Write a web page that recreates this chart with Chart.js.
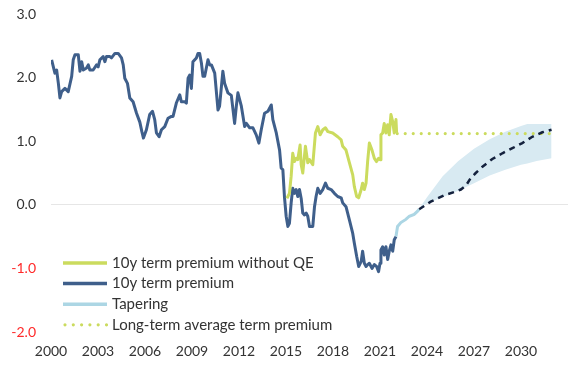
<!DOCTYPE html>
<html><head><meta charset="utf-8">
<script src="https://cdn.jsdelivr.net/npm/chart.js@4.4.0/dist/chart.umd.min.js"></script>
<style>html,body{margin:0;padding:0;background:#fff;}#wrap{width:586px;height:371px;position:relative;}</style>
</head><body><div id="wrap"><canvas id="c" width="586" height="371"></canvas></div>
<script>
// ---- tick labels ----
const xTickYears = [2000, 2003, 2006, 2009, 2012, 2015, 2018, 2021, 2024, 2027, 2030];
const yTickValues = [-2, -1, 0, 1, 2, 3];

// ---- series labels ----
const seriesLabels = ["10y term premium without QE", "10y term premium", "Tapering", "Long-term average term premium"];

// ---- 10y term premium (history) ----
const premiumDates = [2000.04,2000.15,2000.25,2000.36,2000.47,2000.57,2000.68,2000.89,2001.1,2001.32,2001.42,2001.53,2001.74,2001.85,2001.96,2002.06,2002.27,2002.38,2002.48,2002.69,2002.91,2003.01,2003.12,2003.33,2003.44,2003.54,2003.76,2003.86,2004.08,2004.29,2004.5,2004.61,2004.71,2004.88,2005.03,2005.24,2005.46,2005.67,2005.8,2005.9,2006.09,2006.3,2006.48,2006.62,2006.73,2006.9,2007.05,2007.26,2007.47,2007.69,2007.79,2008.0,2008.22,2008.32,2008.54,2008.64,2008.75,2008.85,2008.96,2009.06,2009.28,2009.38,2009.49,2009.6,2009.7,2009.81,2010.02,2010.13,2010.24,2010.45,2010.66,2010.76,2010.97,2011.08,2011.29,2011.51,2011.72,2011.83,2011.93,2012.15,2012.36,2012.47,2012.68,2012.89,2013.1,2013.27,2013.42,2013.63,2013.85,2014.06,2014.16,2014.38,2014.59,2014.69,2014.8,2014.9,2015.01,2015.12,2015.22,2015.33,2015.43,2015.54,2015.65,2015.75,2015.86,2015.97,2016.07,2016.18,2016.29,2016.39,2016.5,2016.71,2016.82,2016.92,2017.03,2017.18,2017.35,2017.52,2017.67,2017.88,2018.09,2018.3,2018.52,2018.62,2018.83,2019.05,2019.26,2019.36,2019.51,2019.64,2019.8,2019.89,2020.0,2020.11,2020.21,2020.32,2020.49,2020.64,2020.78,2020.91,2021.0,2021.06,2021.17,2021.27,2021.38,2021.49,2021.59,2021.7,2021.81,2021.91,2022.02];
const premiumValues = [2.28,2.17,2.07,2.12,1.91,1.68,1.78,1.83,1.78,2.02,2.28,2.36,2.36,2.10,2.25,2.12,2.15,2.20,2.12,2.12,2.20,2.17,2.28,2.33,2.25,2.33,2.33,2.31,2.38,2.38,2.31,2.20,1.99,1.91,1.68,1.62,1.44,1.30,1.15,1.05,1.18,1.42,1.47,1.34,1.13,1.07,1.18,1.23,1.36,1.39,1.39,1.60,1.73,1.62,1.62,1.60,1.99,2.04,1.83,2.25,2.31,2.38,2.38,2.23,2.02,2.02,2.28,2.20,2.20,2.07,1.49,1.55,2.10,1.91,1.76,1.72,1.28,1.55,1.76,1.55,1.23,1.28,1.21,1.21,1.10,0.97,1.18,1.44,1.47,1.57,1.34,1.13,0.86,0.58,0.55,0.13,-0.18,-0.34,-0.29,0.03,0.26,0.18,0.24,0.13,0.24,0.10,-0.13,-0.16,-0.13,-0.18,-0.34,-0.34,-0.03,0.13,0.26,0.18,0.24,0.34,0.26,0.24,0.18,0.13,0.11,0.03,-0.03,-0.24,-0.45,-0.60,-0.81,-0.97,-0.89,-0.73,-0.92,-0.97,-0.94,-0.92,-1.00,-0.94,-0.97,-1.05,-0.92,-0.71,-0.66,-0.79,-0.66,-0.86,-0.73,-0.63,-0.73,-0.55,-0.50];

// ---- 10y term premium without QE ----
const noQeDates = [2015.06,2015.12,2015.22,2015.33,2015.43,2015.54,2015.65,2015.75,2015.9,2015.97,2016.07,2016.24,2016.39,2016.5,2016.71,2016.88,2017.03,2017.18,2017.35,2017.52,2017.67,2017.98,2018.3,2018.52,2018.62,2018.83,2019.05,2019.26,2019.36,2019.51,2019.64,2019.8,2019.89,2020.0,2020.11,2020.21,2020.32,2020.49,2020.64,2020.78,2020.91,2021.0,2021.06,2021.17,2021.27,2021.38,2021.49,2021.59,2021.7,2021.81,2021.91,2022.02,2022.06];
const noQeValues = [0.10,0.13,0.18,0.45,0.81,0.68,0.73,0.71,0.94,0.63,0.50,0.92,0.66,0.71,0.63,1.13,1.23,1.10,1.18,1.21,1.15,1.13,1.07,1.02,0.92,0.86,0.66,0.47,0.29,0.13,0.11,0.24,0.34,0.24,0.34,0.68,0.97,0.86,0.73,0.68,0.73,0.71,1.10,1.13,1.28,1.13,1.26,1.10,1.42,1.31,1.13,1.34,1.13];

// ---- Tapering ----
const taperDates = [2022.02,2022.12,2022.33,2022.65,2022.87,2023.18,2023.4,2023.5];
const taperValues = [-0.50,-0.34,-0.28,-0.23,-0.18,-0.15,-0.10,-0.07];

// ---- Long-term average term premium ----
const averageDates = [2022.1, 2031.95];
const averageValues = [1.12, 1.12];

// ---- Projection (dashed) ----
const projectionDates = [2023.5,2024.24,2025.1,2025.84,2026.16,2026.48,2026.79,2027.11,2027.54,2028.17,2028.81,2029.45,2030.08,2030.72,2031.36,2031.95];
const projectionValues = [-0.07,0.05,0.15,0.21,0.24,0.30,0.42,0.50,0.60,0.72,0.81,0.89,0.97,1.07,1.14,1.18];

// ---- Projection band ----
const bandDates = [2023.5,2024,2025,2026,2027,2028,2029,2030,2030.4,2031,2031.95];
const bandUpper = [-0.06,0.12,0.45,0.69,0.88,1.03,1.15,1.24,1.27,1.27,1.27];
const bandLower = [-0.06,0.02,0.12,0.22,0.34,0.46,0.55,0.63,0.65,0.69,0.73];

const GREEN = '#cbdb5e', BLUE = '#3f5f8b', LIGHTBLUE = '#acd6e4', NAVY = '#14213d', BAND = '#d8eaf2';
const FONT = 'Lato, "Open Sans", sans-serif';

const pts = (xs, ys) => xs.map((x, i) => ({x: x, y: ys[i]}));

const insideLegend = {
  id: 'insideLegend',
  afterDraw(chart) {
    const ctx = chart.ctx, a = chart.chartArea;
    ctx.save();
    chart.data.datasets.forEach(d => {
      if (d.legendRow === undefined) return;
      const y = a.bottom - 69 + d.legendRow * 20.6;
      const x0 = a.left + 12, x1 = a.left + 56;
      ctx.beginPath();
      ctx.strokeStyle = d.borderColor;
      ctx.lineWidth = d.dotted ? 3.2 : 3.5;
      ctx.lineCap = d.dotted ? 'round' : 'butt';
      ctx.setLineDash(d.dotted ? [0, 8.3] : []);
      ctx.moveTo(x0 + (d.dotted ? 2 : 0), y);
      ctx.lineTo(x1, y);
      ctx.stroke();
      ctx.setLineDash([]);
      ctx.fillStyle = '#333333';
      ctx.font = '15px ' + FONT;
      ctx.textBaseline = 'middle';
      ctx.textAlign = 'left';
      ctx.fillText(d.label, x1 + 5, y);
    });
    ctx.restore();
  }
};

new Chart(document.getElementById('c'), {
  type: 'line',
  data: {
    datasets: [
      {label: 'band upper', data: pts(bandDates, bandUpper), borderWidth: 0, pointRadius: 0, backgroundColor: BAND, borderColor: BAND, fill: '+1', order: 10},
      {label: 'band lower', data: pts(bandDates, bandLower), borderWidth: 0, pointRadius: 0, backgroundColor: BAND, borderColor: BAND, fill: false, order: 10},
      {label: seriesLabels[2], data: pts(taperDates, taperValues), borderColor: LIGHTBLUE, borderWidth: 3, pointRadius: 0, fill: false, order: 4, legendRow: 2},
      {label: seriesLabels[1], data: pts(premiumDates, premiumValues), borderColor: BLUE, borderWidth: 3, pointRadius: 0, fill: false, order: 3, legendRow: 1, borderJoinStyle: 'round'},
      {label: seriesLabels[0], data: pts(noQeDates, noQeValues), borderColor: GREEN, borderWidth: 3, pointRadius: 0, fill: false, order: 2, legendRow: 0, borderJoinStyle: 'round'},
      {label: seriesLabels[3], data: pts(averageDates, averageValues), borderColor: GREEN, borderWidth: 3.2, borderDash: [0, 8], borderCapStyle: 'round', pointRadius: 0, fill: false, order: 2, legendRow: 3, dotted: true},
      {label: 'projection', data: pts(projectionDates, projectionValues), borderColor: NAVY, borderWidth: 2.5, borderDash: [6, 5], pointRadius: 0, fill: false, order: 1}
    ]
  },
  options: {
    responsive: false,
    animation: false,
    devicePixelRatio: 1,
    layout: {padding: {top: 14, bottom: 0, left: 0, right: 18}},
    plugins: {legend: {display: false}, tooltip: {enabled: false}},
    elements: {line: {tension: 0}},
    scales: {
      x: {
        type: 'linear', min: 2000, max: 2033,
        afterBuildTicks: axis => { axis.ticks = xTickYears.map(v => ({value: v})); },
        afterFit: s => { s.height = 39; s.paddingLeft = 0; s.paddingRight = 0; },
        grid: {display: false, drawTicks: false},
        border: {display: false},
        ticks: {padding: 11, color: '#333333', font: {family: FONT, size: 14}, callback: v => String(v), maxRotation: 0, autoSkip: false}
      },
      y: {
        min: -2, max: 3,
        afterBuildTicks: axis => { axis.ticks = yTickValues.map(v => ({value: v})); },
        afterFit: s => { s.width = 51; s.paddingTop = 0; s.paddingBottom = 0; },
        grid: {color: c => (c.tick && c.tick.value === 0) ? '#e6e6e6' : 'rgba(0,0,0,0)', drawTicks: false, lineWidth: 1},
        border: {display: false},
        ticks: {padding: 15, font: {family: FONT, size: 14}, color: c => c.tick.value < 0 ? '#ff2a2a' : '#333333', callback: v => Number(v).toFixed(1)}
      }
    }
  },
  plugins: [insideLegend]
});
</script>
</body></html>
